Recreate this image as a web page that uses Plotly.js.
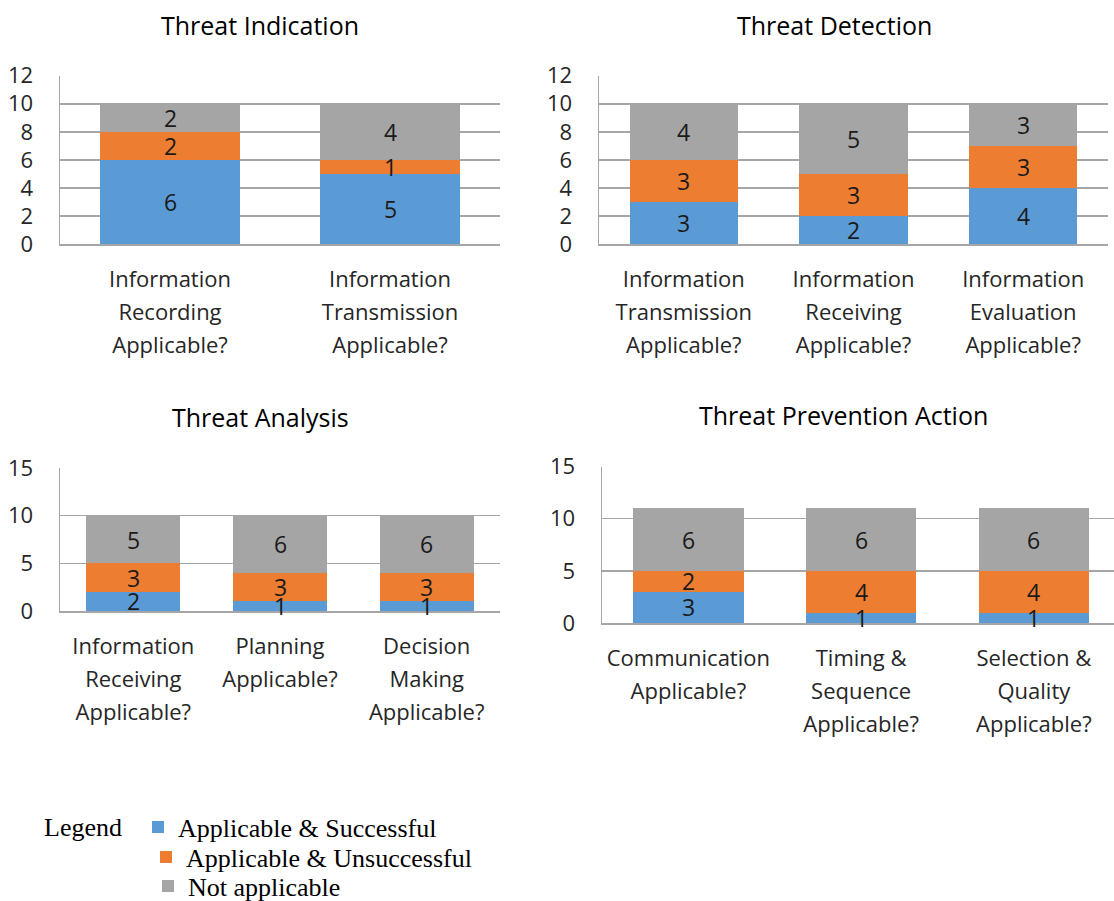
<!DOCTYPE html>
<html>
<head>
<meta charset="utf-8">
<script src="https://cdn.plot.ly/plotly-3.0.1.min.js"></script>
<style>html,body{margin:0;padding:0;background:#fff;}#chart{width:1114px;height:901px;}</style>
</head>
<body>
<div id="chart"></div>
<script>
// ---- data ----
const seriesNames = ['Applicable & Successful', 'Applicable & Unsuccessful', 'Not applicable'];
const seriesColors = ['#5B9BD5', '#ED7D31', '#A5A5A5'];

const titleTL = 'Threat Indication';
const labelsTL = [['Information','Recording','Applicable?'], ['Information','Transmission','Applicable?']];
const succTL = [6, 5];
const unsuccTL = [2, 1];
const naTL = [2, 4];

const titleTR = 'Threat Detection';
const labelsTR = [['Information','Transmission','Applicable?'], ['Information','Receiving','Applicable?'], ['Information','Evaluation','Applicable?']];
const succTR = [3, 2, 4];
const unsuccTR = [3, 3, 3];
const naTR = [4, 5, 3];

const titleBL = 'Threat Analysis';
const labelsBL = [['Information','Receiving','Applicable?'], ['Planning','Applicable?'], ['Decision','Making','Applicable?']];
const succBL = [2, 1, 1];
const unsuccBL = [3, 3, 3];
const naBL = [5, 6, 6];

const titleBR = 'Threat Prevention Action';
const labelsBR = [['Communication','Applicable?'], ['Timing &','Sequence','Applicable?'], ['Selection &','Quality','Applicable?']];
const succBR = [3, 1, 1];
const unsuccBR = [2, 4, 4];
const naBR = [6, 6, 6];

const legendWord = 'Legend';

// ---- helpers ----
const W = 1114, H = 901;
const px = v => v / W;
const py = v => 1 - v / H;
const esc = s => s.replace(/&/g, '&amp;');
const catName = lines => lines.join(' ');
const tickText = lines => lines.map(l => '<span style="font-size:22px">' + esc(l) + '</span>').join('<br>');

const textFont = {family: 'Open Sans, sans-serif', size: 23, color: '#1a1a1a'};
const valueAnnotations = [];

function panel(labels, vals, xa, ya, withLegend) {
  const cats = labels.map(catName);
  const base = cats.map(() => 0);
  const traces = vals.map((v, i) => {
    v.forEach((val, j) => {
      valueAnnotations.push({
        text: String(val), x: cats[j], y: base[j] + val / 2,
        xref: xa, yref: ya, showarrow: false, font: textFont,
        xanchor: 'center', yanchor: 'middle'
      });
      base[j] += val;
    });
    const t = {
      type: 'bar', x: cats, y: v, name: seriesNames[i],
      xaxis: xa, yaxis: ya,
      marker: {color: seriesColors[i], line: {width: 0}},
      textposition: 'none',
      hoverinfo: 'x+y+name', showlegend: withLegend
    };
    if (withLegend) t.legend = i === 0 ? 'legend' : ('legend' + (i + 1));
    return t;
  });
  return traces;
}

const data = [].concat(
  panel(labelsTL, [succTL, unsuccTL, naTL], 'x', 'y', true),
  panel(labelsTR, [succTR, unsuccTR, naTR], 'x2', 'y2', false),
  panel(labelsBL, [succBL, unsuccBL, naBL], 'x3', 'y3', false),
  panel(labelsBR, [succBR, unsuccBR, naBR], 'x4', 'y4', false)
);

const gridC = '#A6A6A6';
const tickFontY = {family: 'Open Sans, sans-serif', size: 22, color: '#262626'};
const tickFontX = {family: 'Open Sans, sans-serif', size: 25.5, color: '#262626'};

function xAxis(labels, domain, anchor, range) {
  const a = {
    domain: domain, anchor: anchor, type: 'category',
    tickmode: 'array', tickvals: labels.map(catName), ticktext: labels.map(tickText),
    tickfont: tickFontX, showgrid: false, zeroline: false,
    showline: true, linecolor: gridC, linewidth: 1.5, ticks: '', ticklabelstandoff: 11,
    fixedrange: true
  };
  if (range) a.range = range;
  return a;
}
function yAxis(domain, anchor, max, dtick) {
  return {
    domain: domain, anchor: anchor, range: [0, max], dtick: dtick, tick0: 0,
    tickfont: tickFontY, showgrid: true, gridcolor: gridC, gridwidth: 1.5,
    zeroline: false, showline: true, linecolor: gridC, linewidth: 1.5,
    ticks: '', ticklabelstandoff: 21, fixedrange: true
  };
}

const titleFont = {family: 'Open Sans, sans-serif', size: 25, color: '#000'};
const legendFont = {family: 'Liberation Serif, Times New Roman, serif', size: 26, color: '#000'};

const layout = {
  width: W, height: H,
  margin: {l: 0, r: 0, t: 0, b: 0, autoexpand: false},
  paper_bgcolor: '#fff', plot_bgcolor: '#fff',
  barmode: 'stack', bargap: 0.36,
  xaxis:  xAxis(labelsTL, [px(60), px(500)], 'y'),
  yaxis:  yAxis([py(244), py(75.7)], 'x', 12, 2),
  xaxis2: xAxis(labelsTR, [px(599), px(1108)], 'y2'),
  yaxis2: yAxis([py(244), py(75.7)], 'x2', 12, 2),
  xaxis3: xAxis(labelsBL, [px(60), px(500)], 'y3'),
  yaxis3: yAxis([py(611), py(468)], 'x3', 15, 5),
  xaxis4: xAxis(labelsBR, [px(602), 1], 'y4', [-0.5, 2.464]),
  yaxis4: yAxis([py(623), py(466.5)], 'x4', 15, 5),
  legend:  {x: px(138), y: py(827), xanchor: 'left', yanchor: 'middle', font: legendFont, bgcolor: 'rgba(0,0,0,0)', borderwidth: 0},
  legend2: {x: px(146), y: py(857), xanchor: 'left', yanchor: 'middle', font: legendFont, bgcolor: 'rgba(0,0,0,0)', borderwidth: 0},
  legend3: {x: px(148), y: py(886), xanchor: 'left', yanchor: 'middle', font: legendFont, bgcolor: 'rgba(0,0,0,0)', borderwidth: 0},
  annotations: [
    {text: titleTL, x: px(260), y: py(25), xref: 'paper', yref: 'paper', showarrow: false, font: titleFont, xanchor: 'center', yanchor: 'middle'},
    {text: titleTR, x: px(834), y: py(25), xref: 'paper', yref: 'paper', showarrow: false, font: titleFont, xanchor: 'center', yanchor: 'middle'},
    {text: titleBL, x: px(260), y: py(417), xref: 'paper', yref: 'paper', showarrow: false, font: titleFont, xanchor: 'center', yanchor: 'middle'},
    {text: titleBR, x: px(843), y: py(415), xref: 'paper', yref: 'paper', showarrow: false, font: titleFont, xanchor: 'center', yanchor: 'middle'},
    {text: legendWord, x: px(42), y: py(827), xref: 'paper', yref: 'paper', showarrow: false, font: legendFont, xanchor: 'left', yanchor: 'middle'}
  ].concat(valueAnnotations)
};

Plotly.newPlot('chart', data, layout, {displayModeBar: false, staticPlot: true});
</script>
</body>
</html>
